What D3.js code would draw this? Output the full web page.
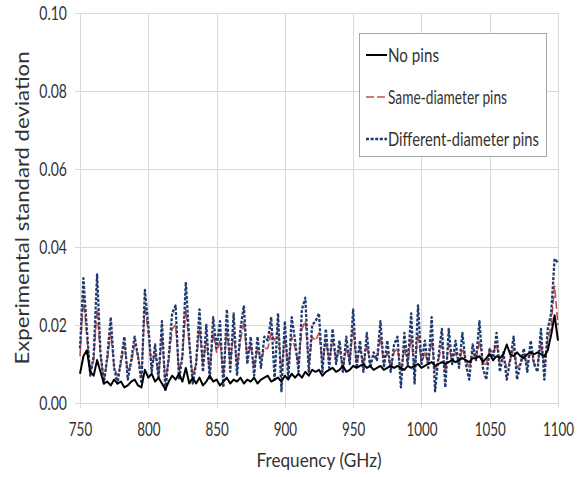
<!DOCTYPE html>
<html>
<head>
<meta charset="utf-8">
<script src="https://cdn.jsdelivr.net/npm/d3@7"></script>
<style>
  body { margin: 0; background: #fff; }
  svg { display: block; }
</style>
</head>
<body>
<svg id="chart" width="587" height="477"></svg>
<script>
// Axis ticks
const xTicks = [750, 800, 850, 900, 950, 1000, 1050, 1100];
const yTicks = [0, 0.02, 0.04, 0.06, 0.08, 0.10];
const seriesNames = ["No pins", "Same-diameter pins", "Different-diameter pins"];

// Measurement grid (GHz), one sample every 2.5 GHz
const frequencies = d3.range(750, 1100.001, 2.5);

// Experimental standard deviation per frequency
const noPins = [
  0.0075, 0.012, 0.0135, 0.008, 0.007, 0.011, 0.008, 0.005, 0.0055, 0.0045,
  0.006, 0.005, 0.0055, 0.004, 0.0045, 0.0055, 0.006, 0.0045, 0.004, 0.0085,
  0.0065, 0.0075, 0.0055, 0.0065, 0.005, 0.0035, 0.0055, 0.007, 0.006, 0.0075,
  0.0055, 0.009, 0.005, 0.0065, 0.005, 0.0065, 0.0045, 0.0055, 0.007, 0.0055,
  0.006, 0.0045, 0.0055, 0.0065, 0.005, 0.006, 0.0055, 0.0065, 0.005, 0.006,
  0.0055, 0.0065, 0.005, 0.006, 0.0065, 0.007, 0.0055, 0.006, 0.0065, 0.0055,
  0.007, 0.006, 0.0075, 0.0065, 0.0075, 0.0065, 0.008, 0.007, 0.0085, 0.008,
  0.0085, 0.007, 0.008, 0.0085, 0.009, 0.008, 0.0085, 0.0095, 0.008, 0.0085,
  0.0095, 0.009, 0.0095, 0.010, 0.009, 0.0095, 0.0085, 0.009, 0.0095, 0.0085,
  0.009, 0.0095, 0.009, 0.0095, 0.009, 0.0085, 0.0095, 0.009, 0.0095, 0.010,
  0.009, 0.0095, 0.010, 0.0105, 0.0095, 0.010, 0.0105, 0.010, 0.0105, 0.011,
  0.0105, 0.011, 0.0115, 0.011, 0.0105, 0.0115, 0.0115, 0.012, 0.0105, 0.0115,
  0.0125, 0.011, 0.012, 0.0115, 0.0125, 0.015, 0.0125, 0.012, 0.013, 0.012,
  0.0115, 0.0125, 0.013, 0.0125, 0.013, 0.0125, 0.012, 0.0135, 0.0175, 0.0225,
  0.016
];

const sameDiameter = [
  0.012, 0.027, 0.017, 0.008, 0.011, 0.024, 0.012, 0.006, 0.011, 0.018,
  0.009, 0.007, 0.010, 0.015, 0.008, 0.010, 0.015, 0.012, 0.007, 0.025,
  0.018, 0.009, 0.013, 0.007, 0.017, 0.006, 0.011, 0.019, 0.020, 0.008,
  0.012, 0.024, 0.015, 0.007, 0.010, 0.019, 0.010, 0.016, 0.008, 0.018,
  0.013, 0.016, 0.007, 0.019, 0.010, 0.018, 0.009, 0.016, 0.021, 0.011,
  0.015, 0.009, 0.014, 0.011, 0.014, 0.014, 0.018, 0.016, 0.019, 0.008,
  0.017, 0.009, 0.017, 0.014, 0.010, 0.019, 0.021, 0.010, 0.017, 0.016,
  0.018, 0.010, 0.016, 0.011, 0.016, 0.011, 0.014, 0.009, 0.014, 0.011,
  0.019, 0.010, 0.014, 0.010, 0.015, 0.010, 0.012, 0.011, 0.017, 0.010,
  0.013, 0.009, 0.013, 0.014, 0.008, 0.014, 0.010, 0.017, 0.008, 0.018,
  0.010, 0.013, 0.010, 0.016, 0.008, 0.011, 0.015, 0.008, 0.015, 0.010,
  0.013, 0.010, 0.014, 0.011, 0.009, 0.013, 0.011, 0.016, 0.010, 0.010,
  0.014, 0.013, 0.015, 0.010, 0.012, 0.009, 0.011, 0.014, 0.009, 0.010,
  0.012, 0.010, 0.013, 0.010, 0.010, 0.015, 0.010, 0.016, 0.020, 0.030,
  0.020
];

const differentDiameter = [
  0.014, 0.032, 0.019, 0.007, 0.012, 0.033, 0.013, 0.005, 0.012, 0.022,
  0.009, 0.005, 0.011, 0.017, 0.006, 0.011, 0.017, 0.012, 0.005, 0.029,
  0.020, 0.008, 0.015, 0.006, 0.021, 0.003, 0.012, 0.023, 0.025, 0.006,
  0.012, 0.031, 0.016, 0.005, 0.010, 0.024, 0.008, 0.020, 0.006, 0.022,
  0.014, 0.021, 0.004, 0.024, 0.008, 0.023, 0.007, 0.019, 0.025, 0.010,
  0.017, 0.007, 0.017, 0.009, 0.017, 0.016, 0.022, 0.006, 0.023, 0.003,
  0.021, 0.006, 0.022, 0.016, 0.008, 0.024, 0.027, 0.008, 0.020, 0.021,
  0.023, 0.008, 0.019, 0.009, 0.019, 0.010, 0.016, 0.008, 0.017, 0.010,
  0.024, 0.009, 0.016, 0.008, 0.018, 0.009, 0.013, 0.011, 0.021, 0.009,
  0.016, 0.008, 0.015, 0.017, 0.004, 0.018, 0.010, 0.023, 0.005, 0.025,
  0.010, 0.016, 0.009, 0.022, 0.003, 0.012, 0.019, 0.004, 0.019, 0.010,
  0.016, 0.009, 0.018, 0.010, 0.006, 0.015, 0.011, 0.021, 0.009, 0.006,
  0.014, 0.011, 0.018, 0.008, 0.013, 0.006, 0.011, 0.017, 0.006, 0.010,
  0.014, 0.008, 0.016, 0.010, 0.008, 0.019, 0.006, 0.019, 0.023, 0.037,
  0.036
];

const svg = d3.select("#chart");
const margin = { left: 80, right: 29, top: 13, bottom: 74 };
const W = 587, H = 477;
const fontFamily = "Lato, 'Open Sans', sans-serif";
const textColor = "#333333";

const x = d3.scaleLinear().domain([750, 1100]).range([margin.left, W - margin.right]);
const y = d3.scaleLinear().domain([0, 0.10]).range([H - margin.bottom, margin.top]);

// Narrow the rendered glyphs the way a condensed face would
function condense(sel, k) {
  sel.each(function () {
    const w = this.getComputedTextLength();
    d3.select(this).attr("textLength", w * k).attr("lengthAdjust", "spacingAndGlyphs");
  });
}
function fitWidth(sel, w) {
  sel.attr("textLength", w).attr("lengthAdjust", "spacingAndGlyphs");
}

// Gridlines
const grid = svg.append("g").attr("stroke", "#d9d9d9").attr("stroke-width", 1);
grid.selectAll("line.h").data(yTicks).join("line")
  .attr("x1", x(750) - 5).attr("x2", x(1100))
  .attr("y1", d => Math.round(y(d)) + 0.5).attr("y2", d => Math.round(y(d)) + 0.5);
grid.selectAll("line.v").data(xTicks).join("line")
  .attr("x1", d => Math.round(x(d)) + 0.5).attr("x2", d => Math.round(x(d)) + 0.5)
  .attr("y1", y(0.10)).attr("y2", y(0) + 5);

// Axes (labels only; lines come from the grid)
const xAxis = svg.append("g")
  .attr("transform", `translate(0,${y(0)})`)
  .call(d3.axisBottom(x).tickValues(xTicks).tickSize(0).tickPadding(19).tickFormat(d3.format("d")));
xAxis.select(".domain").remove();
xAxis.selectAll("text")
  .attr("fill", textColor).attr("font-family", fontFamily).attr("font-size", 20).attr("dy", "0.71em").attr("y", 19);

const yAxis = svg.append("g")
  .attr("transform", `translate(${x(750)},0)`)
  .call(d3.axisLeft(y).tickValues(yTicks).tickSize(0).tickPadding(13).tickFormat(d3.format(".2f")));
yAxis.select(".domain").remove();
yAxis.selectAll("text")
  .attr("fill", textColor).attr("font-family", fontFamily).attr("font-size", 20);

condense(xAxis.selectAll("text"), 0.67);
condense(yAxis.selectAll("text"), 0.70);

// Axis titles
const xTitle = svg.append("text")
  .attr("x", (x(750) + x(1100)) / 2).attr("y", 467)
  .attr("text-anchor", "middle").attr("fill", textColor)
  .attr("font-family", fontFamily).attr("font-size", 20)
  .text("Frequency (GHz)");
fitWidth(xTitle, 125);

const yTitle = svg.append("text")
  .attr("transform", `translate(29,${(y(0) + y(0.10)) / 2}) rotate(-90)`)
  .attr("text-anchor", "middle").attr("fill", textColor)
  .attr("font-family", fontFamily).attr("font-size", 20)
  .text("Experimental standard deviation");
fitWidth(yTitle, 313);

// Series
const series = [
  { name: seriesNames[1], values: sameDiameter, color: "#c0504d", width: 1.6, dash: "8,3" },
  { name: seriesNames[2], values: differentDiameter, color: "#1f3a6e", width: 2.3, dash: "3,1.6" },
  { name: seriesNames[0], values: noPins, color: "#000000", width: 2, dash: null }
];

const line = d3.line().x((d, i) => x(frequencies[i])).y(d => y(d));

svg.append("g").selectAll("path").data(series).join("path")
  .attr("d", s => line(s.values))
  .attr("fill", "none")
  .attr("stroke", s => s.color)
  .attr("stroke-width", s => s.width)
  .attr("stroke-dasharray", s => s.dash)
  .attr("stroke-linejoin", "round");

// Legend
const legend = svg.append("g");
legend.append("rect")
  .attr("x", 359.5).attr("y", 33.5).attr("width", 187).attr("height", 123)
  .attr("fill", "#fff").attr("stroke", "#a6a6a6").attr("stroke-width", 1);

const legendOrder = [series[2], series[0], series[1]];
const rowY = [55, 97, 139];
const legendWidths = [51, 119, 151];
legendOrder.forEach((s, i) => {
  legend.append("line")
    .attr("x1", 366).attr("x2", 387).attr("y1", rowY[i]).attr("y2", rowY[i])
    .attr("stroke", s.color).attr("stroke-width", s.width)
    .attr("stroke-dasharray", s.dash);
  const t = legend.append("text")
    .attr("x", 388).attr("y", rowY[i]).attr("dy", "0.35em")
    .attr("fill", textColor).attr("font-family", fontFamily).attr("font-size", 19)
    .text(s.name);
  fitWidth(t, legendWidths[i]);
});
</script>
</body>
</html>
